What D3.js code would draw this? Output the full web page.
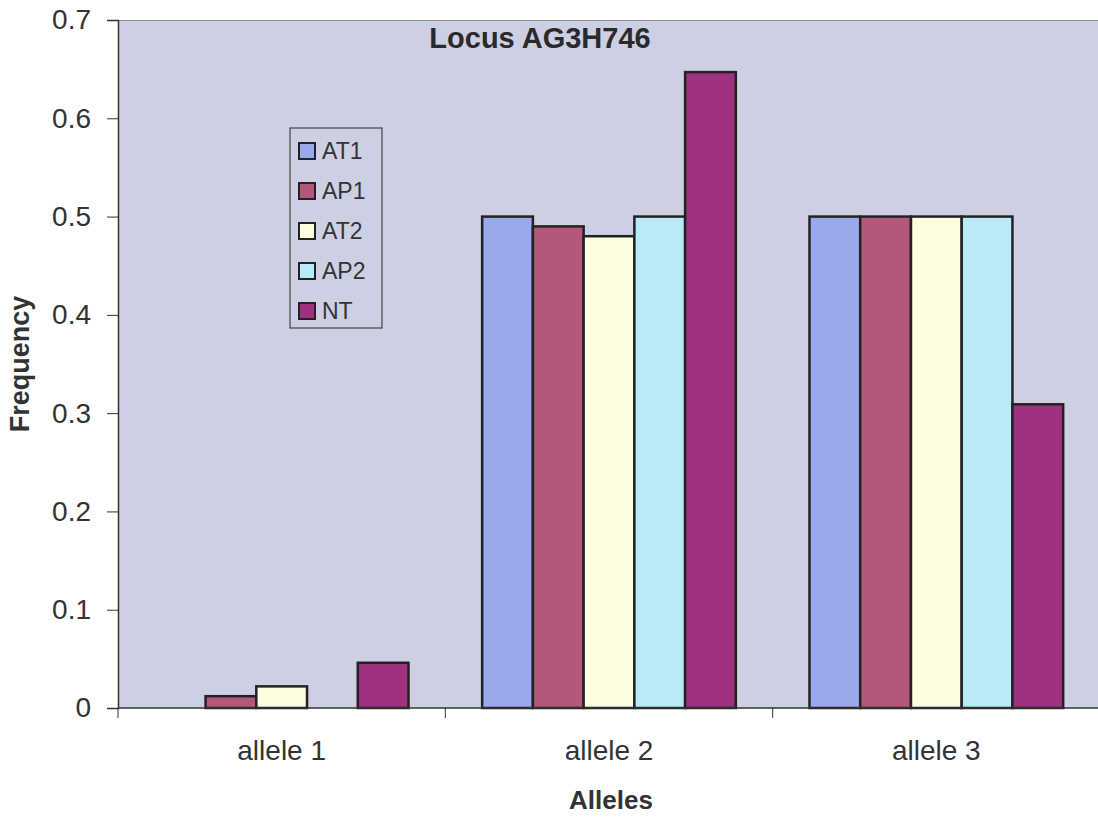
<!DOCTYPE html>
<html><head><meta charset="utf-8">
<script src="https://cdn.jsdelivr.net/npm/d3@7"></script>
<style>body{margin:0;background:#fff}svg{display:block;font-family:"Liberation Sans",Arial,sans-serif}</style>
</head><body>
<svg id="c" width="1098" height="819"></svg>
<script>
const categories = ["allele 1", "allele 2", "allele 3"];
const seriesNames = ["AT1", "AP1", "AT2", "AP2", "NT"];
const AT1 = [0, 0.5, 0.5];
const AP1 = [0.012, 0.49, 0.5];
const AT2 = [0.022, 0.48, 0.5];
const AP2 = [0, 0.5, 0.5];
const NT  = [0.046, 0.647, 0.309];
const yTicks = [0, 0.1, 0.2, 0.3, 0.4, 0.5, 0.6, 0.7];
const colors = ["#9aa8ec", "#b4577c", "#fcfce0", "#b9eaf7", "#9e3180"];
const series = [AT1, AP1, AT2, AP2, NT];

const svg = d3.select("#c");
const L = 118, R = 1100, T = 20, B = 708;
const x = d3.scaleBand().domain(categories).range([L, R]).paddingInner(0.225).paddingOuter(0.1125);
const xs = d3.scaleBand().domain(seriesNames).range([0, x.bandwidth()]);
const y = d3.scaleLinear().domain([0, 0.7]).range([B, T]);

svg.append("rect").attr("x", L).attr("y", T).attr("width", R - L).attr("height", B - T).attr("fill", "#cdcfe3");
svg.append("line").attr("x1", L).attr("x2", R).attr("y1", T + 0.5).attr("y2", T + 0.5).attr("stroke", "#8a8a98").attr("stroke-width", 1);

// bars
series.forEach((vals, si) => {
  svg.append("g").selectAll("rect").data(categories.map((c, i) => ({c, v: vals[i]})).filter(d => d.v > 0))
    .join("rect")
    .attr("x", d => x(d.c) + xs(seriesNames[si]))
    .attr("y", d => y(d.v))
    .attr("width", xs.bandwidth())
    .attr("height", d => y(0) - y(d.v))
    .attr("fill", colors[si])
    .attr("stroke", "#222")
    .attr("stroke-width", 2.5);
});

// y axis
const ya = svg.append("g").attr("transform", `translate(${L},0)`)
  .call(d3.axisLeft(y).tickValues(yTicks).tickSize(11).tickPadding(16).tickFormat(d => d === 0 ? "0" : d3.format(".1f")(d)));
ya.select(".domain").attr("stroke", "#333").attr("stroke-width", 1.5);
ya.selectAll(".tick line").attr("stroke", "#333");
ya.selectAll("text").attr("font-size", 28).attr("fill", "#333").attr("font-family", "Liberation Sans, Arial, sans-serif");

// x axis
const boundaries = [x.range()[0]].concat(categories.map(c => x(c) + x.bandwidth() + x.step() * x.paddingInner() / 2));
const xa = svg.append("g").attr("transform", `translate(0,${B})`);
xa.append("line").attr("x1", L).attr("x2", R).attr("stroke", "#333").attr("stroke-width", 1.5);
xa.selectAll("line.t").data(boundaries).join("line").attr("class", "t")
  .attr("x1", d => d).attr("x2", d => d).attr("y1", 0).attr("y2", 10).attr("stroke", "#333");
xa.selectAll("text").data(categories).join("text")
  .attr("x", d => x(d) + x.bandwidth() / 2).attr("y", 52)
  .attr("text-anchor", "middle").attr("font-size", 28).attr("fill", "#333").text(d => d);

// titles
svg.append("text").attr("x", 540).attr("y", 48).attr("text-anchor", "middle")
  .attr("font-size", 29).attr("font-weight", "bold").attr("fill", "#2a2a2a").text("Locus AG3H746");
svg.append("text").attr("x", 611).attr("y", 809).attr("text-anchor", "middle")
  .attr("font-size", 26).attr("font-weight", "bold").attr("fill", "#333").text("Alleles");
svg.append("text").attr("transform", "translate(29,364) rotate(-90)").attr("text-anchor", "middle")
  .attr("font-size", 27).attr("font-weight", "bold").attr("fill", "#333").text("Frequency");

// legend
const lg = svg.append("g").attr("transform", "translate(290,128)");
lg.append("rect").attr("width", 92).attr("height", 200).attr("fill", "#cdcfe3").attr("stroke", "#444").attr("stroke-width", 1.2);
seriesNames.forEach((s, i) => {
  const cy = 23 + i * 40;
  lg.append("rect").attr("x", 9).attr("y", cy - 8).attr("width", 16).attr("height", 16)
    .attr("fill", colors[i]).attr("stroke", "#222").attr("stroke-width", 2);
  lg.append("text").attr("x", 32).attr("y", cy + 8).attr("font-size", 23).attr("fill", "#333").text(s);
});
</script>
</body></html>
